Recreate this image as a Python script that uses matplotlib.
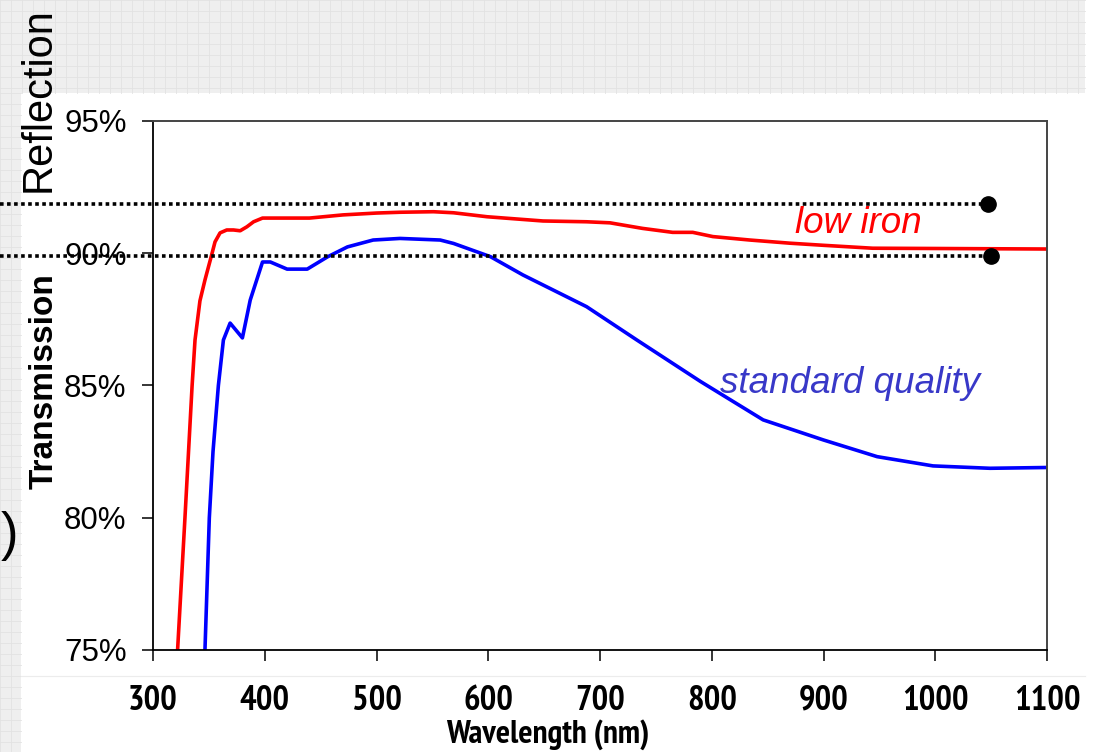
import matplotlib
matplotlib.use("Agg")
import matplotlib.pyplot as plt
from matplotlib import font_manager as fm
import numpy as np

# ---------------- data ----------------
low_iron_wl = [322, 328.6, 335, 337.6, 342, 346.5, 352, 355.5, 360, 366, 372, 378, 384, 390, 398,
               420, 440, 470, 500, 521, 551, 569, 599, 649, 688, 709, 738, 765, 783, 801, 834,
               870, 900, 944, 1000, 1050, 1100]
low_iron_T = [75.0, 80.0, 85.0, 86.72, 88.2, 88.99, 89.86, 90.43, 90.77, 90.88, 90.88, 90.85, 91.0, 91.19, 91.33,
              91.33, 91.33, 91.45, 91.52, 91.55, 91.57, 91.53, 91.38, 91.22, 91.19, 91.15, 90.94, 90.79, 90.79, 90.63, 90.5,
              90.38, 90.3, 90.19, 90.18, 90.17, 90.16]

standard_wl = [346.5, 350.4, 353.7, 358.5, 363, 369, 380, 387, 398, 405, 420, 438, 456, 474, 497, 521,
               557, 569, 602, 631, 688, 733, 790, 846, 900, 948, 998, 1049, 1100]
standard_T = [75.0, 80.0, 82.5, 85.0, 86.72, 87.36, 86.8, 88.23, 89.67, 89.67, 89.4, 89.4, 89.86, 90.24, 90.5, 90.56,
              90.5, 90.37, 89.87, 89.18, 87.98, 86.72, 85.15, 83.7, 82.94, 82.31, 81.96, 81.87, 81.9]

reflection_levels = [91.85, 89.9]
reflection_dot_wl = [1047, 1049.5]

x_ticks = [300, 400, 500, 600, 700, 800, 900, 1000, 1100]
y_ticks = [75, 80, 85, 90, 95]
y_tick_labels = ["75%", "80%", "85%", "90%", "95%"]

# ---------------- fonts ----------------
available = {f.name for f in fm.fontManager.ttflist}
narrow_candidates = ["Liberation Sans Narrow", "Arial Narrow", "PT Sans Narrow", "Archivo Narrow",
                     "Roboto Condensed", "Fira Sans Condensed", "IBM Plex Sans Condensed",
                     "Open Sans Condensed", "Encode Sans Condensed"]
NARROW = next((n for n in narrow_candidates if n in available), "Liberation Sans")
NARROW_FAM = [NARROW, "DejaVu Sans"]
SANS_FAM = ["Liberation Sans", "DejaVu Sans"]

# ---------------- figure ----------------
W, H = 1101, 752
fig = plt.figure(figsize=(W / 100, H / 100), dpi=100)

def fx(px):
    return px / W

def fy(py):
    return 1 - py / H

# background decoration (gray grid paper regions)
bg = fig.add_axes([0, 0, 1, 1], zorder=-10)
bg.set_xlim(0, W)
bg.set_ylim(H, 0)
bg.axis("off")
gray = "#efefef"
gline = "#e2e2e2"
bg.add_patch(plt.Rectangle((0, 0), 1085, 93, color=gray, lw=0))
bg.add_patch(plt.Rectangle((0, 0), 21, H, color=gray, lw=0))
for gx in np.arange(0, 1086, 11):
    bg.plot([gx, gx], [0, 93], color=gline, lw=0.6)
for gx in np.arange(0, 22, 11):
    bg.plot([gx, gx], [93, H], color=gline, lw=0.6)
for gy in np.arange(0, 94, 11):
    bg.plot([0, 1085], [gy, gy], color=gline, lw=0.6)
for gy in np.arange(93, H, 11):
    bg.plot([0, 21], [gy, gy], color=gline, lw=0.6)
bg.plot([21, 1085], [676, 676], color="#ececec", lw=0.8)

# main axes
ax = fig.add_axes([fx(153), fy(650), fx(1047) - fx(153), fy(121) - fy(650)])
ax.set_xlim(300, 1100)
ax.set_ylim(75, 95)

ax.plot(low_iron_wl, low_iron_T, color="#ff0000", lw=2.6, solid_joinstyle="round")
ax.plot(standard_wl, standard_T, color="#0000ff", lw=2.6, solid_joinstyle="round")

# dotted reflection lines extending to the left edge of the figure
x_left = ax.transData.inverted().transform(fig.transFigure.transform((0, 0)))[0]
for lvl, xd in zip(reflection_levels, reflection_dot_wl):
    ax.plot([x_left, xd], [lvl, lvl], color="black", lw=2.6,
            linestyle=(0, (1, 0.95)), dash_capstyle="butt", clip_on=False, zorder=4)
    ax.plot([xd], [lvl], "o", color="black", ms=11, clip_on=False, zorder=5)

# ticks
ax.set_xticks(x_ticks)
ax.set_xticklabels([str(t) for t in x_ticks])
ax.set_yticks(y_ticks)
ax.set_yticklabels(y_tick_labels)
ax.tick_params(axis="both", direction="out", length=8, width=1.1, color="black")
ax.tick_params(axis="x", pad=17)
ax.tick_params(axis="y", pad=11)
for lab in ax.get_xticklabels():
    lab.set_family(NARROW_FAM)
    lab.set_fontweight("bold")
    lab.set_fontsize(25)
for lab in ax.get_yticklabels():
    lab.set_family(SANS_FAM)
    lab.set_fontsize(22.5)

for s in ["left", "bottom"]:
    ax.spines[s].set_color("black")
    ax.spines[s].set_linewidth(1.3)
for s in ["top", "right"]:
    ax.spines[s].set_color("#444444")
    ax.spines[s].set_linewidth(1.4)

# axis labels
ax.set_xlabel("Wavelength (nm)", family=NARROW_FAM, fontweight="bold", fontsize=24)
ax.xaxis.set_label_coords((548 - 153) / 894, (650 - 743) / 529)
ax.xaxis.label.set_va("baseline")

fig.text(fx(53), fy(381), "Transmission", rotation=90, rotation_mode="anchor",
         ha="center", va="baseline", fontsize=24, fontweight="bold", family=SANS_FAM)

# series labels
fig.text(fx(858), fy(233), "low iron", color="#ff0000", style="italic", fontsize=26.5,
         ha="center", va="baseline", family=SANS_FAM)
fig.text(fx(720), fy(393), "standard quality", color="#3838c8", style="italic", fontsize=26.5,
         ha="left", va="baseline", family=SANS_FAM)

# outer annotations
fig.text(fx(50), fy(100), "Reflection", rotation=90, rotation_mode="anchor",
         ha="center", va="baseline", fontsize=30, family=SANS_FAM)
fig.text(fx(0.5), fy(536), ")", ha="left", va="center", fontsize=38, family=SANS_FAM)

fig.savefig("out.png", dpi=100)
